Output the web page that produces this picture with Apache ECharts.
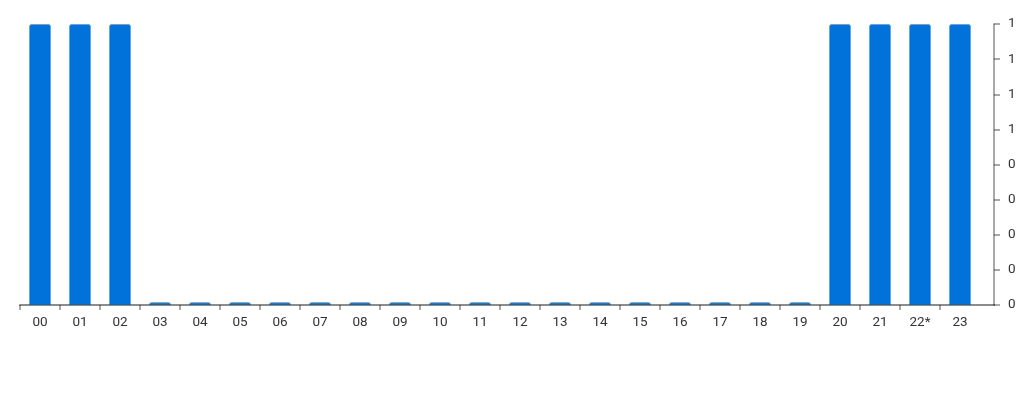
<!DOCTYPE html>
<html>
<head>
<meta charset="utf-8">
<script src="https://cdn.jsdelivr.net/npm/echarts@6/dist/echarts.min.js"></script>
<style>
  html, body { margin: 0; padding: 0; background: #fff; }
  #chart { width: 1024px; height: 400px; }
</style>
</head>
<body>
<div id="chart"></div>
<script>
// hours of the day, 22* is the current hour
const hours = ["00", "01", "02", "03", "04", "05", "06", "07", "08", "09", "10", "11",
  "12", "13", "14", "15", "16", "17", "18", "19", "20", "21", "22*", "23"];
const values = [1, 1, 1, 0.01, 0.01, 0.01, 0.01, 0.01, 0.01, 0.01, 0.01, 0.01,
  0.01, 0.01, 0.01, 0.01, 0.01, 0.01, 0.01, 0.01, 1, 1, 1, 1];
// right axis labels, bottom to top (values are rounded to whole numbers)
const yTickLabels = ["0", "0", "0", "0", "0", "1", "1", "1", "1"];

const font = "Roboto, 'Noto Sans', sans-serif";
const axisGrey = "rgba(0, 0, 0, 0.45)";

// the hour slots are laid on a value axis that runs a little past the last slot
const slotStarts = hours.map((h, i) => i);
const slotMiddles = hours.map((h, i) => i + 0.5);
const barData = values.map((v, i) => [i + 0.5, v]);

const chart = echarts.init(document.getElementById("chart"), null, { renderer: "canvas" });

chart.setOption({
  animation: false,
  grid: { left: 20, right: 30, top: 24, bottom: 95 },
  xAxis: {
    type: "value",
    min: 0,
    max: 24.35,
    z: 5,
    axisLine: { show: true, onZero: false, lineStyle: { color: axisGrey, width: 2 } },
    axisTick: { show: true, length: 5, customValues: slotStarts, lineStyle: { color: axisGrey, width: 1.5 } },
    axisLabel: {
      color: "#333",
      fontSize: 13.5,
      fontFamily: font,
      margin: 11,
      customValues: slotMiddles,
      formatter: function (v) { return hours[Math.floor(v)]; }
    },
    splitLine: { show: false }
  },
  yAxis: {
    type: "value",
    position: "right",
    min: 0,
    max: 1,
    interval: 0.125,
    axisLine: { show: true, onZero: false, lineStyle: { color: axisGrey, width: 1.5 } },
    axisTick: { show: true, length: 6, lineStyle: { color: axisGrey, width: 1.5 } },
    splitLine: { show: false },
    axisLabel: {
      color: "#333",
      fontSize: 13.5,
      fontFamily: font,
      margin: 14,
      formatter: function (v) { return yTickLabels[Math.round(v / 0.125)]; }
    }
  },
  series: [
    {
      type: "bar",
      data: barData,
      barWidth: 22,
      itemStyle: {
        color: "#0072d9",
        borderColor: "#5fa6ec",
        borderWidth: 1,
        borderRadius: [2, 2, 0, 0]
      }
    }
  ]
});
</script>
</body>
</html>
